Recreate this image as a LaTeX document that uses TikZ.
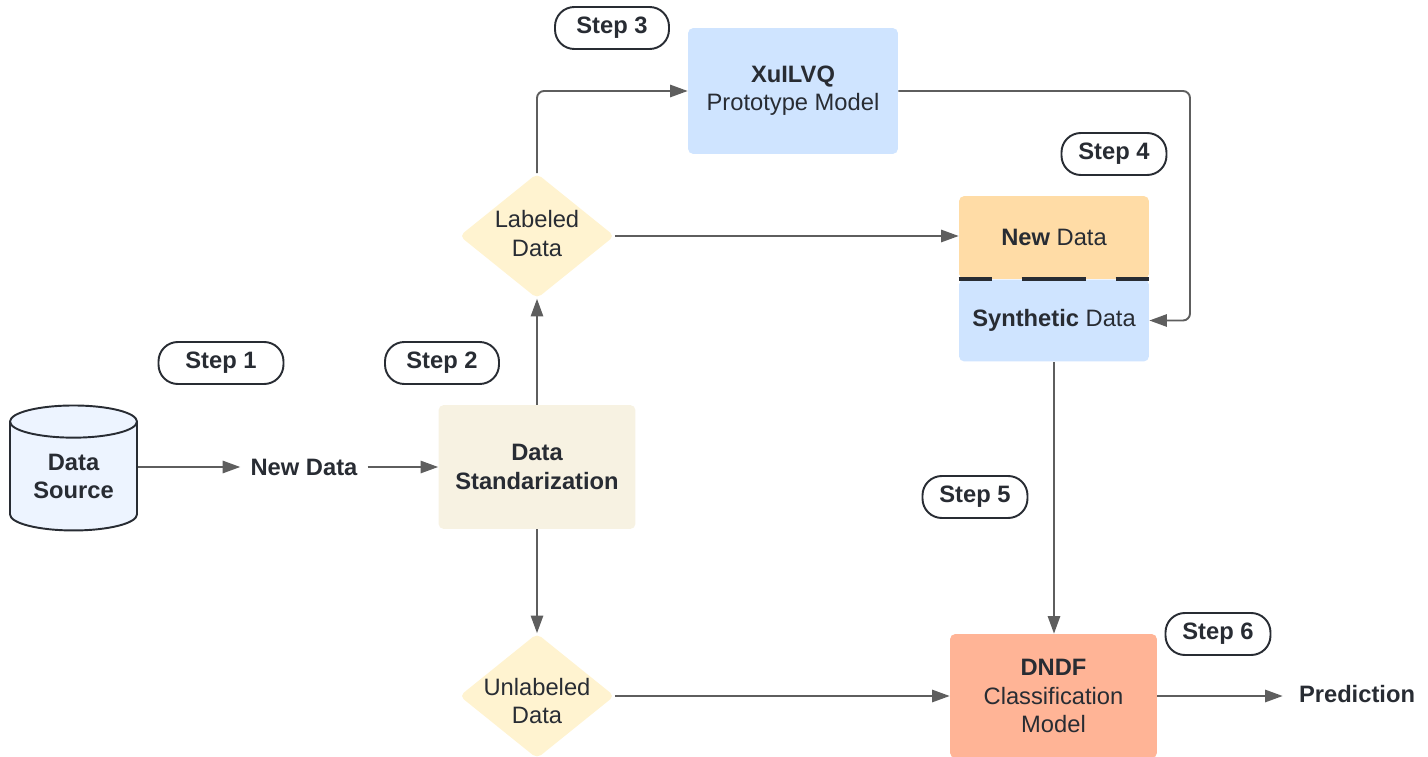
\documentclass[tikz,border=0pt]{standalone}
\usepackage{fontspec}
\setmainfont{Liberation Sans}
\usetikzlibrary{shapes.geometric,arrows.meta}
\definecolor{ink}{HTML}{282C33}
\definecolor{wire}{HTML}{5E5E5E}
\definecolor{dbblue}{HTML}{EDF4FF}
\definecolor{stdcream}{HTML}{F7F2E2}
\definecolor{decyellow}{HTML}{FFF3D0}
\definecolor{protoblue}{HTML}{CFE4FF}
\definecolor{neworange}{HTML}{FFDCA6}
\definecolor{dndfsalmon}{HTML}{FFB496}
\begin{document}
\begin{tikzpicture}[x=0.02cm,y=-0.02cm,
    every node/.style={text=ink,font=\fontsize{13.5}{16}\selectfont,align=center},
    box/.style={rectangle,rounded corners=3pt,inner sep=0pt},
    decision/.style={diamond,fill=decyellow,rounded corners=3pt,inner sep=0pt,aspect=1.24,minimum width=3.1cm,minimum height=2.5cm},
    pill/.style={draw=ink,line width=1.1pt,rounded corners=11pt,fill=white,inner sep=0pt,minimum width=2.1cm,minimum height=0.84cm,font=\bfseries\fontsize{13.5}{16}\selectfont},
    link/.style={draw=wire,line width=1.1pt,-{Triangle[length=10pt,width=7pt]}}]
  \useasboundingbox (0,0) rectangle (1428,757);
  % nodes
  \node[cylinder,shape border rotate=90,aspect=0.4,draw=ink,line width=1.1pt,fill=dbblue,
        minimum width=2.54cm,minimum height=2.5cm,inner sep=0pt,font=\bfseries\fontsize{13.5}{16}\selectfont]
        (src) at (73.5,476.5) {Data\\Source};
  \node[inner xsep=0.2cm,font=\bfseries\fontsize{13.5}{16}\selectfont] (newtxt) at (304,467) {New Data};
  \node[box,fill=stdcream,minimum width=3.94cm,minimum height=2.48cm,font=\bfseries\fontsize{13.5}{16}\selectfont]
        (std) at (537,467) {Data\\Standarization};
  \node[decision,label={[align=center,yshift=0.05cm]center:Labeled\\Data}] (lab) at (537,236) {};
  \node[decision,label={[align=center,yshift=-0.1cm]center:Unlabeled\\Data}] (unl) at (537,696) {};
  \node[box,fill=protoblue,minimum width=4.2cm,minimum height=2.52cm] (proto) at (793,91) {\textbf{XuILVQ}\\Prototype Model};
  \node[box,fill=neworange,minimum width=3.8cm,minimum height=1.66cm] (newd) at (1054,237.5) {\textbf{New} Data};
  \node[box,fill=protoblue,minimum width=3.8cm,minimum height=1.64cm] (synd) at (1054,320.5) {\textbf{Synthetic} Data};
  \node[box,fill=dndfsalmon,minimum width=4.14cm,minimum height=2.48cm] (dndf) at (1053.5,696) {\textbf{DNDF}\\Classification\\Model};
  \node[inner xsep=0.32cm,font=\bfseries\fontsize{13.5}{16}\selectfont] (pred) at (1357,694) {Prediction};
  % steps
  \node[pill,minimum width=2.5cm] (step1) at (221,363) {Step 1};
  \node[pill,minimum width=2.28cm] (step2) at (442,363) {Step 2};
  \node[pill,minimum width=2.28cm] (step3) at (612,28) {Step 3};
  \node[pill] (step4) at (1114,154) {Step 4};
  \node[pill] (step5) at (975,497) {Step 5};
  \node[pill] (step6) at (1218,634) {Step 6};
  \coordinate (turn) at (1190,91);
  % split line
  \draw[ink,line width=2.3pt,dash pattern=on 1.28cm off 0.6cm,dash phase=0.62cm]
    (newd.south west) -- (newd.south east);
  % connectors
  \begin{scope}[link]
    \draw (src.east |- newtxt) -- (newtxt);
    \draw (newtxt) -- (std);
    \draw (std) -- (lab);
    \draw[rounded corners=4pt] (lab.north) |- (proto.west);
    \draw (lab.east) -- (lab.east -| newd.west);
    \draw[rounded corners=4pt] (proto.east) -- (turn) |- (synd.east);
    \draw (synd.south) -- (synd.south |- dndf.north);
    \draw (std) -- (unl);
    \draw (unl) -- (dndf);
    \draw (dndf.east) -- (dndf.east -| pred.west);
  \end{scope}
\end{tikzpicture}
\end{document}
